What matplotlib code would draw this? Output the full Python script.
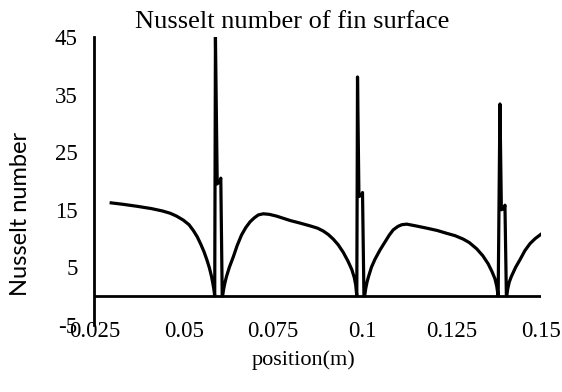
import numpy as np
import matplotlib
matplotlib.use("Agg")
import matplotlib.pyplot as plt

plt.rcParams["axes.unicode_minus"] = False

# smooth parts of the curve between the fins
branch1_x = [0.0297, 0.0330, 0.0370, 0.0410, 0.0440, 0.0462, 0.0480, 0.0499,
             0.0515, 0.0527, 0.0538, 0.0548, 0.0557, 0.0565, 0.0572, 0.0578,
             0.0582, 0.0585, 0.0587]
branch1_y = [16.2, 15.95, 15.6, 15.2, 14.8, 14.4, 13.9, 13.2,
             12.4, 11.4, 10.3, 9.0, 7.7, 6.3, 4.9, 3.4,
             2.1, 1.0, 0.0]

branch2_x = [0.0609, 0.0612, 0.0616, 0.0620, 0.0628, 0.0639, 0.0650, 0.0662,
             0.0674, 0.0686, 0.0698, 0.0709, 0.0723, 0.0740, 0.0760, 0.0780,
             0.0800, 0.0825, 0.0854, 0.0875, 0.0891, 0.0905, 0.0919, 0.0933,
             0.0947, 0.0960, 0.0971, 0.0978, 0.0982, 0.0985]
branch2_y = [0.0, 1.2, 2.4, 3.4, 5.0, 6.8, 8.8, 10.6,
             11.9, 12.9, 13.6, 14.1, 14.3, 14.2, 13.9, 13.5,
             13.1, 12.7, 12.2, 11.8, 11.3, 10.7, 9.9, 8.9,
             7.6, 6.1, 4.6, 3.2, 1.9, 0.0]

branch3_x = [0.1007, 0.1010, 0.1014, 0.1018, 0.1026, 0.1036, 0.1050, 0.1064,
             0.1076, 0.1087, 0.1100, 0.1111, 0.1125, 0.1150, 0.1181, 0.1210,
             0.1237, 0.1260, 0.1283, 0.1300, 0.1321, 0.1338, 0.1353, 0.1364,
             0.1372, 0.1377, 0.1381]
branch3_y = [0.0, 1.3, 2.5, 3.4, 5.0, 6.4, 8.0, 9.4,
             10.6, 11.5, 12.1, 12.4, 12.5, 12.2, 11.8, 11.4,
             10.9, 10.5, 9.9, 9.3, 8.2, 7.0, 5.6, 4.2,
             3.0, 1.7, 0.0]

branch4_x = [0.1405, 0.1408, 0.1412, 0.1418, 0.1430, 0.1442, 0.1456, 0.1470,
             0.1485, 0.1500]
branch4_y = [0.0, 1.3, 2.4, 3.4, 5.0, 6.3, 7.9, 9.1, 10.0, 10.7]

# peaks at the fin edges
spike1_x = [0.0589, 0.0594, 0.0602, 0.0604, 0.0608]
spike1_y = [45.0, 19.5, 20.0, 20.5, 0.0]
spike2_x = [0.0987, 0.0991, 0.0999, 0.1001, 0.1005]
spike2_y = [38.1, 17.3, 17.6, 18.0, 0.0]
spike3_x = [0.1386, 0.1390, 0.1398, 0.1400, 0.1404]
spike3_y = [33.4, 15.0, 15.3, 15.8, 0.0]

x_ticks = [0.025, 0.05, 0.075, 0.1, 0.125, 0.15]
x_labels = ["0.025", "0.05", "0.075", "0.1", "0.125", "0.15"]
y_ticks = [-5, 5, 15, 25, 35, 45]

x = np.concatenate([branch1_x, spike1_x, branch2_x, spike2_x,
                    branch3_x, spike3_x, branch4_x])
y = np.concatenate([branch1_y, spike1_y, branch2_y, spike2_y,
                    branch3_y, spike3_y, branch4_y])

serif = "Liberation Serif"

fig = plt.figure(figsize=(5.62, 3.92), dpi=100)
ax = fig.add_axes([0.168, 0.1716, 0.794, 0.7332])

ax.plot(x, y, color="black", linewidth=2.3, solid_joinstyle="round")
ax.axhline(0, color="black", linewidth=2.0)

ax.set_xlim(0.025, 0.15)
ax.set_ylim(-5, 45)
ax.set_xticks(x_ticks)
ax.set_xticklabels(x_labels)
ax.set_yticks(y_ticks)

for s in ["top", "right", "bottom"]:
    ax.spines[s].set_visible(False)
ax.spines["left"].set_linewidth(2.0)

ax.tick_params(axis="both", length=0, labelsize=16.5)
ax.tick_params(axis="y", pad=12)
ax.tick_params(axis="x", pad=-3)
for lab in ax.get_xticklabels() + ax.get_yticklabels():
    lab.set_fontfamily(serif)

fig.text(0.52, 0.944, "Nusselt number of fin surface", ha="center", va="center",
         fontsize=19, fontfamily=serif)
fig.text(0.541, 0.082, "position(m)", ha="center", va="center",
         fontsize=16, fontfamily=serif)
fig.text(0.036, 0.454, "Nusselt number", ha="center", va="center",
         rotation=90, fontsize=17, fontfamily="Lato")

fig.savefig("out.png", dpi=100)
